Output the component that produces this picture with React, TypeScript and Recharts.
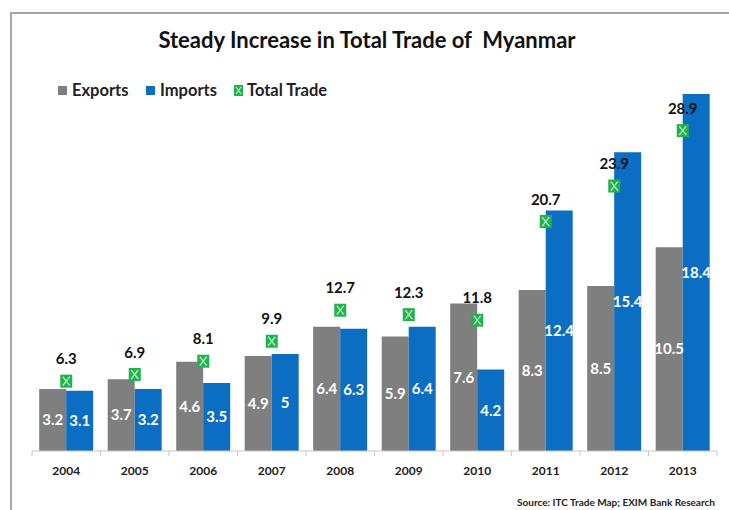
import React from 'react';
import { ComposedChart, Bar, Line, XAxis, YAxis, LabelList } from 'recharts';

const years = ['2004', '2005', '2006', '2007', '2008', '2009', '2010', '2011', '2012', '2013'];
const exportsVals = [3.2, 3.7, 4.6, 4.9, 6.4, 5.9, 7.6, 8.3, 8.5, 10.5];
const importsVals = [3.1, 3.2, 3.5, 5, 6.3, 6.4, 4.2, 12.4, 15.4, 18.4];
const totalVals = [6.3, 6.9, 8.1, 9.9, 12.7, 12.3, 11.8, 20.7, 23.9, 28.9];

const legendItems = [
  { name: 'Exports', color: '#7f7f7f', type: 'square' },
  { name: 'Imports', color: '#0b6ec3', type: 'square' },
  { name: 'Total Trade', color: '#22b14c', type: 'marker' },
];
const legendLeft = [58, 146, 234];

const data = years.map((y, i) => ({
  year: y,
  exports: exportsVals[i],
  imports: importsVals[i],
  total: totalVals[i],
}));

const FONT = 'Lato, "Open Sans", sans-serif';
const W = 729;
const H = 510;
const M = { top: 63, right: 12, left: 32, bottom: 0 };
const BAND = (W - M.left - M.right) / years.length;

const MarkerDot = (props: any) => {
  const { cx, cy } = props;
  if (cx == null || cy == null) return null;
  return (
    <g>
      <rect x={cx - 6} y={cy - 6.5} width={12} height={13} fill="#22b14c" />
      <line x1={cx - 3.5} y1={cy - 4.5} x2={cx + 3.5} y2={cy + 4.5} stroke="#b8f0c4" strokeWidth={1.3} />
      <line x1={cx + 3.5} y1={cy - 4.5} x2={cx - 3.5} y2={cy + 4.5} stroke="#b8f0c4" strokeWidth={1.3} />
    </g>
  );
};

const XTick = (props: any) => {
  const { x, y, payload, index } = props;
  const last = index === years.length - 1;
  return (
    <g>
      <line x1={x - BAND / 2} y1={y} x2={x - BAND / 2} y2={y + 5} stroke="#c8c8c8" />
      {last && <line x1={x + BAND / 2} y1={y} x2={x + BAND / 2} y2={y + 5} stroke="#c8c8c8" />}
      <text x={x} y={y + 19} textAnchor="middle" dominantBaseline="central" fontFamily={FONT} fontWeight={700} fontSize={12} fill="#222">
        {payload.value}
      </text>
    </g>
  );
};

const TotalLabel = (props: any) => {
  const { x, y, value } = props;
  return (
    <text x={x} y={y - 23} textAnchor="middle" dominantBaseline="central" fontFamily={FONT} fontWeight={700} fontSize={15} fill="#111">
      {value}
    </text>
  );
};

export default function App() {
  return (
    <div style={{ position: 'absolute', left: 0, top: 0, width: W, height: H, background: '#fff', overflow: 'hidden' }}>
      <div style={{ position: 'absolute', left: 10, top: 12, width: W, height: H, borderTop: '2px solid #a6a6a6', borderLeft: '2px solid #a6a6a6' }} />
      <div style={{ position: 'absolute', left: 0, top: 26, width: 734, textAlign: 'center', fontFamily: FONT, fontWeight: 700, fontSize: 22, color: '#111' }}>
        Steady Increase in Total Trade of&nbsp; Myanmar
      </div>
      {legendItems.map((it, i) => (
        <div
          key={it.name}
          style={{ position: 'absolute', left: legendLeft[i], top: 80, height: 20, display: 'flex', alignItems: 'center', fontFamily: FONT, fontWeight: 700, fontSize: 16.5, color: '#222', whiteSpace: 'nowrap' }}
        >
          {it.type === 'square' ? (
            <div style={{ width: 9, height: 9, background: it.color, marginRight: 5 }} />
          ) : (
            <svg width={9} height={11} style={{ marginRight: 4 }}>
              <rect x={0} y={0} width={9} height={11} fill={it.color} />
              <line x1={2} y1={2} x2={7} y2={9} stroke="#b8f0c4" strokeWidth={1.2} />
              <line x1={7} y1={2} x2={2} y2={9} stroke="#b8f0c4" strokeWidth={1.2} />
            </svg>
          )}
          <span>{it.name}</span>
        </div>
      ))}
      <ComposedChart width={W} height={H} data={data} margin={M} barCategoryGap="10.5%" barGap={0}>
        <XAxis
          dataKey="year"
          height={59}
          axisLine={{ stroke: '#c8c8c8' }}
          tickLine={false}
          tickSize={0}
          tickMargin={0}
          tick={<XTick />}
          interval={0}
        />
        <YAxis yAxisId="left" hide domain={[0, 20]} />
        <YAxis yAxisId="right" hide orientation="right" domain={[0, 35]} />
        <Bar yAxisId="left" dataKey="exports" name="Exports" fill="#7f7f7f" isAnimationActive={false}>
          <LabelList dataKey="exports" position="center" fill="#fff" fontFamily={FONT} fontWeight={700} fontSize={15} />
        </Bar>
        <Bar yAxisId="left" dataKey="imports" name="Imports" fill="#0b6ec3" isAnimationActive={false}>
          <LabelList dataKey="imports" position="center" fill="#fff" fontFamily={FONT} fontWeight={700} fontSize={15} />
        </Bar>
        <Line
          yAxisId="right"
          dataKey="total"
          name="Total Trade"
          stroke="none"
          dot={<MarkerDot />}
          activeDot={false}
          isAnimationActive={false}
        >
          <LabelList dataKey="total" content={<TotalLabel />} />
        </Line>
      </ComposedChart>
      <div style={{ position: 'absolute', right: 14, top: 496, fontFamily: FONT, fontWeight: 700, fontSize: 10, color: '#222' }}>
        Source: ITC Trade Map; EXIM Bank Research
      </div>
    </div>
  );
}
